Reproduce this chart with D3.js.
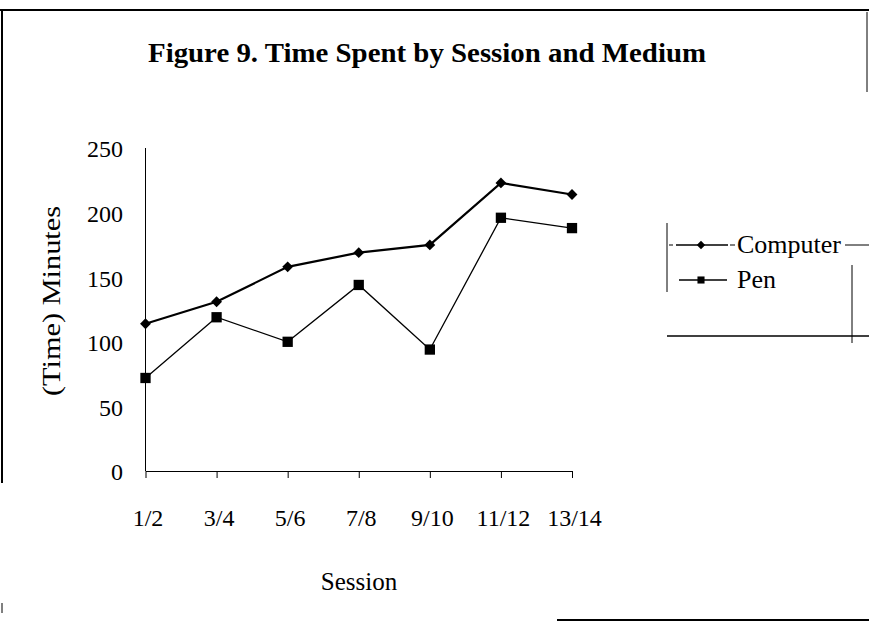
<!DOCTYPE html>
<html>
<head>
<meta charset="utf-8">
<script src="https://cdn.jsdelivr.net/npm/d3@7"></script>
<style>
  body { margin: 0; background: #fff; }
  text { font-family: "Liberation Serif", "Times New Roman", serif; fill: #000; }
</style>
</head>
<body>
<div id="chart"></div>
<script>
// data
const sessions = ["1/2", "3/4", "5/6", "7/8", "9/10", "11/12", "13/14"];
const computerMinutes = [114, 131, 158, 169, 175, 223, 214];
const penMinutes = [72, 119, 100, 144, 94, 196, 188];
const yTicks = [0, 50, 100, 150, 200, 250];

const width = 869, height = 622;

const svg = d3.select("#chart")
  .append("svg")
  .attr("width", width)
  .attr("height", height);

// scanned page frame (partial borders)
const frame = svg.append("g").attr("class", "frame")
  .attr("stroke", "#000").attr("fill", "none");
frame.append("line").attr("x1", 0).attr("x2", width).attr("y1", 10).attr("y2", 10).attr("stroke-width", 2);
frame.append("line").attr("x1", 2).attr("x2", 2).attr("y1", 10).attr("y2", 483).attr("stroke-width", 2);
frame.append("line").attr("x1", 2).attr("x2", 2).attr("y1", 603).attr("y2", 613).attr("stroke-width", 1);
frame.append("line").attr("x1", 867).attr("x2", 867).attr("y1", 12).attr("y2", 92).attr("stroke-width", 1);
frame.append("line").attr("x1", 557).attr("x2", width).attr("y1", 620).attr("y2", 620).attr("stroke-width", 2);

// title
svg.append("text")
  .attr("x", 427)
  .attr("y", 62)
  .attr("text-anchor", "middle")
  .attr("font-size", 27)
  .attr("font-weight", "bold")
  .attr("textLength", 558)
  .attr("lengthAdjust", "spacingAndGlyphs")
  .text("Figure 9. Time Spent by Session and Medium");

const xScale = d3.scalePoint()
  .domain(sessions)
  .range([145.5, 572]);

const yScale = d3.scaleLinear()
  .domain([0, 250])
  .range([471, 148]);

// y axis: plain line, labels only
svg.append("line")
  .attr("x1", xScale(sessions[0])).attr("x2", xScale(sessions[0]))
  .attr("y1", yScale(0)).attr("y2", yScale(250))
  .attr("stroke", "#000");

svg.append("g")
  .attr("class", "y labels")
  .selectAll("text")
  .data(yTicks)
  .enter()
  .append("text")
  .attr("x", 123)
  .attr("y", (d) => yScale(d) + 1)
  .attr("dy", "0.35em")
  .attr("text-anchor", "end")
  .attr("font-size", 24)
  .text((d) => d);

// x axis with downward ticks
const xAxis = svg.append("g")
  .attr("class", "axis x")
  .attr("transform", "translate(0," + yScale(0) + ")")
  .call(d3.axisBottom(xScale).tickSize(7).tickPadding(31).tickSizeOuter(0));
xAxis.select(".domain").attr("stroke", "#000");
xAxis.selectAll("line").attr("stroke", "#000");
xAxis.selectAll("text")
  .attr("font-family", "Liberation Serif, serif")
  .attr("font-size", 24)
  .attr("fill", "#000")
  .attr("dx", 2);

// axis titles
svg.append("text")
  .attr("transform", "translate(60,301) rotate(-90)")
  .attr("text-anchor", "middle")
  .attr("font-size", 25)
  .attr("textLength", 190)
  .attr("lengthAdjust", "spacingAndGlyphs")
  .text("(Time) Minutes");

svg.append("text")
  .attr("x", 359)
  .attr("y", 590)
  .attr("text-anchor", "middle")
  .attr("font-size", 25)
  .text("Session");

// lines
const seriesLine = d3.line()
  .x((d, i) => xScale(sessions[i]))
  .y((d) => yScale(d));

svg.append("path")
  .attr("d", seriesLine(computerMinutes))
  .attr("fill", "none")
  .attr("stroke", "#000")
  .attr("stroke-width", 2.2);

svg.append("path")
  .attr("d", seriesLine(penMinutes))
  .attr("fill", "none")
  .attr("stroke", "#000")
  .attr("stroke-width", 1.3);

const diamond = d3.symbol().type(d3.symbolDiamond2);
const square = d3.symbol().type(d3.symbolSquare2);

svg.append("g")
  .selectAll("path")
  .data(computerMinutes)
  .enter()
  .append("path")
  .attr("transform", (d, i) => "translate(" + xScale(sessions[i]) + "," + yScale(d) + ")")
  .attr("d", diamond.size(75))
  .attr("fill", "#000");

svg.append("g")
  .selectAll("path")
  .data(penMinutes)
  .enter()
  .append("path")
  .attr("transform", (d, i) => "translate(" + xScale(sessions[i]) + "," + yScale(d) + ")")
  .attr("d", square.size(135))
  .attr("fill", "#000");

// legend
const legend = svg.append("g").attr("class", "legend");
legend.append("line").attr("x1", 667).attr("x2", 667).attr("y1", 223).attr("y2", 292).attr("stroke", "#000");
legend.append("line").attr("x1", 667).attr("x2", width).attr("y1", 336).attr("y2", 336).attr("stroke", "#000").attr("stroke-width", 1.5);
legend.append("line").attr("x1", 852).attr("x2", 852).attr("y1", 265).attr("y2", 343).attr("stroke", "#000");

legend.append("line").attr("x1", 669).attr("x2", 673).attr("y1", 245).attr("y2", 245).attr("stroke", "#000");
legend.append("line").attr("x1", 676).attr("x2", 728).attr("y1", 245).attr("y2", 245).attr("stroke", "#000").attr("stroke-width", 1.6);
legend.append("path").attr("transform", "translate(701,245)").attr("d", diamond.size(45)).attr("fill", "#000");
legend.append("line").attr("x1", 730).attr("x2", 735).attr("y1", 245).attr("y2", 245).attr("stroke", "#000");
legend.append("text").attr("x", 737).attr("y", 253).attr("font-size", 26).text("Computer");
legend.append("line").attr("x1", 845).attr("x2", width).attr("y1", 245).attr("y2", 245).attr("stroke", "#000");

legend.append("line").attr("x1", 679).attr("x2", 727).attr("y1", 280).attr("y2", 280).attr("stroke", "#000").attr("stroke-width", 1.3);
legend.append("path").attr("transform", "translate(701,280)").attr("d", square.size(64)).attr("fill", "#000");
legend.append("text").attr("x", 737).attr("y", 288).attr("font-size", 26).text("Pen");
</script>
</body>
</html>
